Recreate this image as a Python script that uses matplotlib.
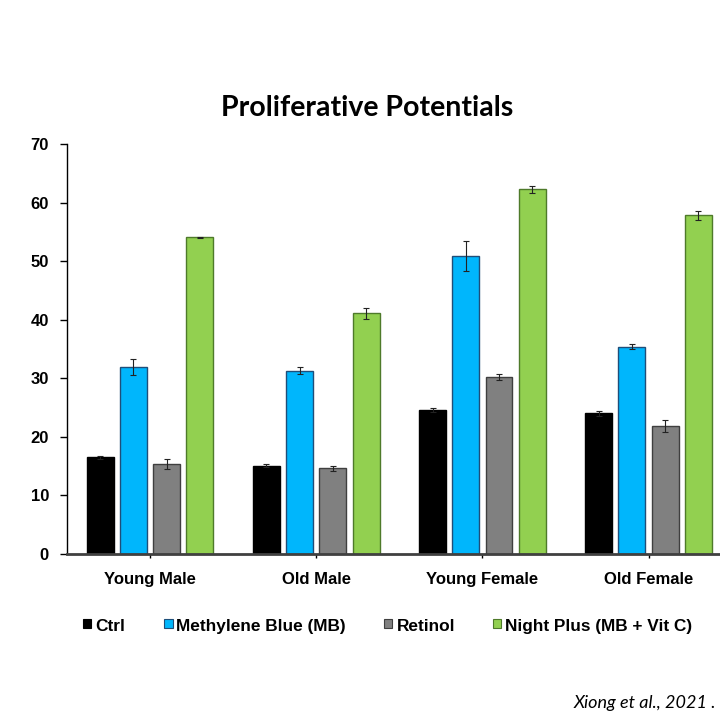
import matplotlib.pyplot as plt
from matplotlib.patches import Rectangle
import numpy as np

groups = ["Young Male", "Old Male", "Young Female", "Old Female"]
series = ["Ctrl", "Methylene Blue (MB)", "Retinol", "Night Plus (MB + Vit C)"]

ctrl = [16.5, 15.1, 24.6, 24.0]
ctrl_err = [0.2, 0.3, 0.3, 0.4]
mb = [31.9, 31.3, 50.9, 35.4]
mb_err = [1.4, 0.6, 2.6, 0.4]
retinol = [15.4, 14.6, 30.2, 21.9]
retinol_err = [0.9, 0.4, 0.5, 1.0]
night = [54.1, 41.1, 62.3, 57.8]
night_err = [0.1, 0.9, 0.6, 0.7]

values = [ctrl, mb, retinol, night]
errors = [ctrl_err, mb_err, retinol_err, night_err]
colors = ["#000000", "#00B6FC", "#808080", "#92D050"]
edges = ["#000000", "#1F4E79", "#3F3F3F", "#4E7A2A"]

W = H = 720
fig = plt.figure(figsize=(7.2, 7.2), dpi=100)
ax = fig.add_axes([67/W, 1 - 554/H, 1 - 67/W, 410/H])

x = np.arange(len(groups))
step = 0.2
width = 0.162
for i in range(4):
    ax.bar(x + (i - 1.5) * step, values[i], width, color=colors[i],
           edgecolor=edges[i], linewidth=1.0,
           yerr=errors[i], capsize=2.5,
           error_kw=dict(elinewidth=0.8, capthick=0.8, ecolor="#222222"))

ax.set_ylim(0, 70)
ax.set_xlim(-0.5, 3.43)
ax.set_yticks(np.arange(0, 71, 10))
ax.set_xticks(x)
ax.set_xticklabels(groups)

for lab in ax.get_xticklabels() + ax.get_yticklabels():
    lab.set_fontfamily("Liberation Sans")
    lab.set_fontweight("bold")
    lab.set_fontsize(12)

ax.spines["top"].set_visible(False)
ax.spines["right"].set_visible(False)
ax.spines["left"].set_linewidth(1.0)
ax.spines["bottom"].set_linewidth(2.0)
ax.spines["bottom"].set_color("#404040")
ax.tick_params(axis="y", length=5, width=1, pad=8)
ax.tick_params(axis="x", length=3, width=1, pad=10)

# title
fig.text(367/W, 1 - 108/H, "Proliferative Potentials", ha="center", va="center",
         fontfamily="Lato", fontweight="bold", fontsize=20.5)

# legend, drawn by hand: small square + label
leg_x = [83, 164, 384, 493]
baseline = 631
sq = 8.5
for i in range(4):
    fig.patches.append(Rectangle((leg_x[i]/W, 1 - (baseline - 3.5)/H), sq/W, sq/H,
                                 facecolor=colors[i], edgecolor=edges[i],
                                 linewidth=0.8, transform=fig.transFigure))
    fig.text((leg_x[i] + sq + 4)/W, 1 - baseline/H, series[i], ha="left", va="baseline",
             fontfamily="Liberation Sans", fontweight="bold", fontsize=12.4)

fig.text(716/W, 1 - 703/H, "Xiong et al., 2021 .", ha="right", va="center",
         fontfamily="Lato", style="italic", fontsize=13)

plt.savefig("out.png", dpi=100)
